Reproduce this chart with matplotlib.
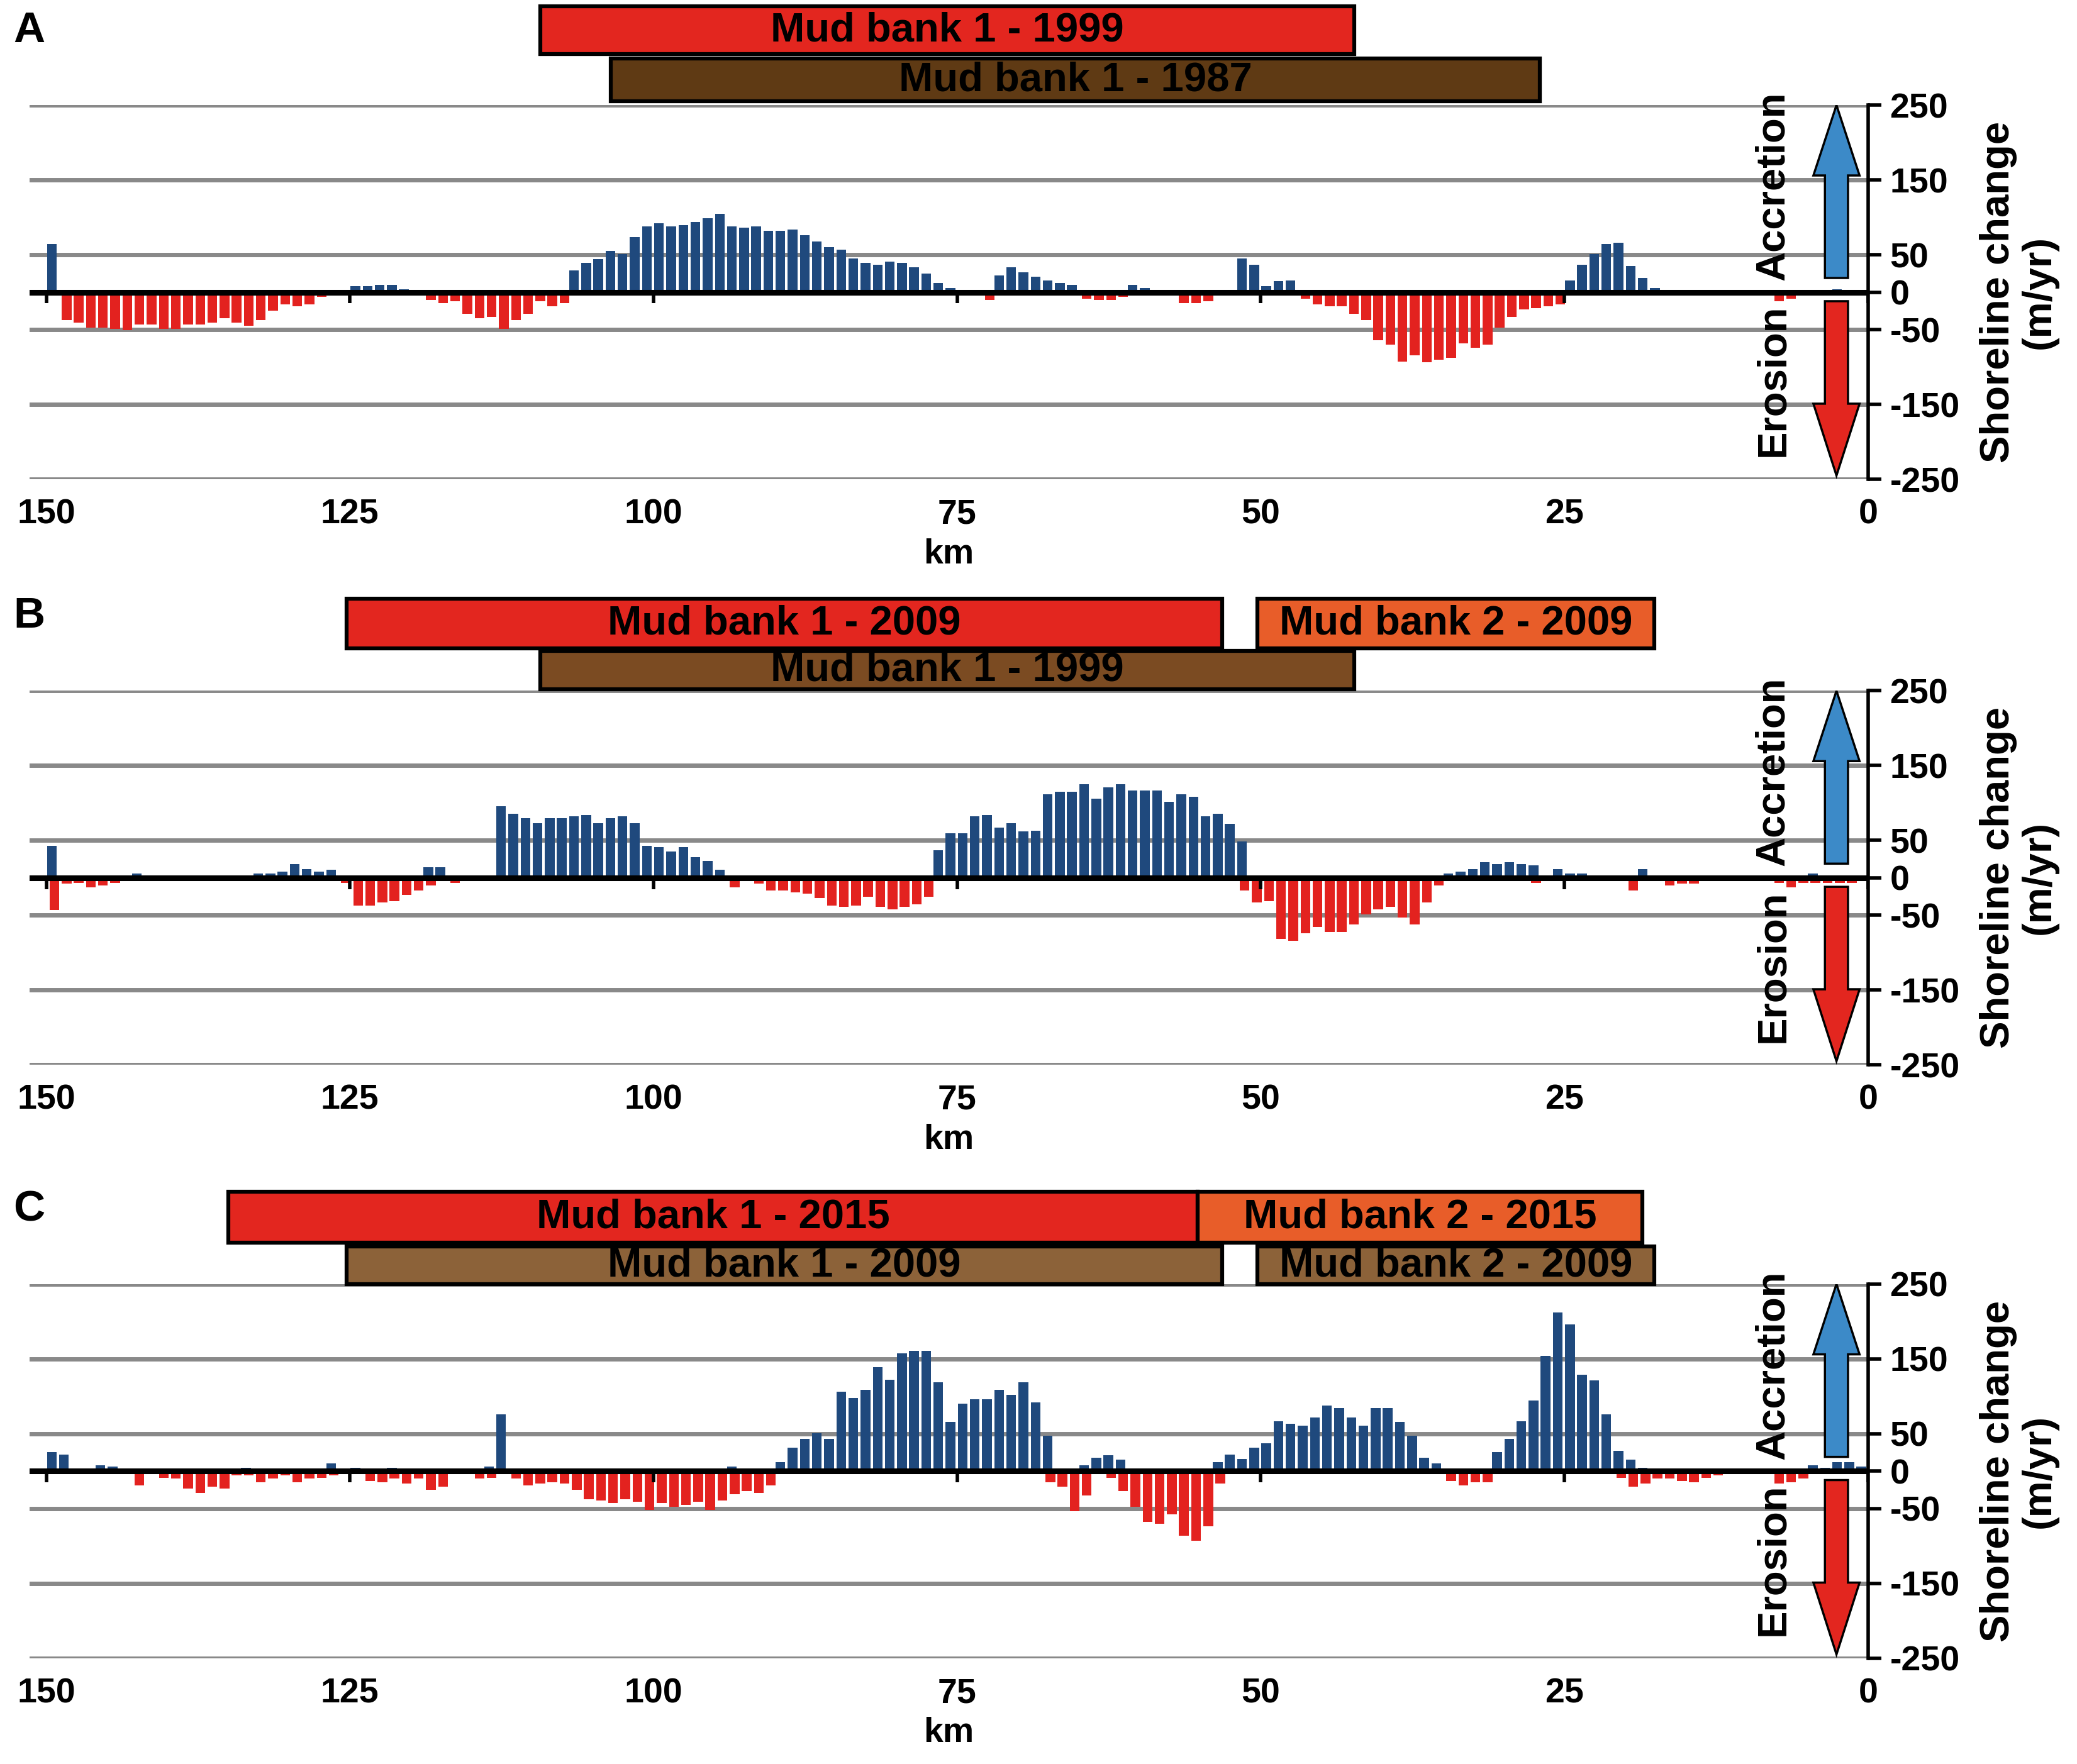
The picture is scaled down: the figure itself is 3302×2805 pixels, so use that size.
import numpy as np
import matplotlib.pyplot as plt
from matplotlib.patches import Rectangle, Polygon

plt.rcParams['font.family'] = ['Liberation Sans', 'DejaVu Sans']
plt.rcParams['font.weight'] = 'bold'

# start of every 1 km coastal segment (150 km -> 1 km)
km = np.arange(150, 0, -1)
xticks_km = [150, 125, 100, 75, 50, 25, 0]
yticks = [250, 150, 50, 0, -50, -150, -250]
gridvals = [250, 150, 50, -50, -150, -250]

# panel A: shoreline change 1987-1999 (m/yr)
acc_a = ([64, 0, 0, 0, 0, 0, 0, 0, 0, 0, 0, 0, 0, 0, 0, 0, 0, 0, 0, 0, 0, 0, 0, 0, 0]
         + [8, 8, 10, 10, 4, 0, 0, 0, 0, 0, 0, 0, 0, 0, 0, 0, 0, 0, 29, 39, 44, 55, 51, 74, 88]
         + [92, 88, 90, 94, 99, 105, 88, 86, 88, 82, 82, 84, 76, 68, 60, 57, 45, 39, 37, 41, 39, 33, 25, 12, 6]
         + [3, 3, 0, 22, 33, 27, 21, 16, 12, 10, 0, 0, 0, 0, 10, 6, 0, 0, 0, 0, 0, 3, 0, 45, 37]
         + [8, 15, 16] + [0] * 22
         + [16, 37, 51, 64, 66, 35, 19, 6, 0, 0, 0, 0, 0, 0, 0, 0, 0, 0, 0, 0, 0, 0, 4, 0, 0])
ero_a = ([0, -37, -41, -47, -47, -49, -51, -43, -43, -49, -49, -43, -43, -41, -35, -41, -45, -37, -25, -16, -19, -16, -6, 0, -2]
         + [0, 0, 0, 0, 0, 0, -10, -15, -12, -29, -35, -33, -49, -37, -29, -12, -19, -15, 0, 0, 0, 0, 0, 0, 0]
         + [0] * 25
         + [0, 0, -10, 0, 0, 0, 0, 0, 0, 0, -9, -10, -10, -6, 0, 0, 0, -4, -15, -15, -12, -4, 0, 0, 0]
         + [0, 0, 0, -9, -16, -19, -19, -29, -37, -64, -70, -93, -84, -94, -90, -88, -68, -74, -70, -47, -33, -23, -21, -19, -16]
         + [0] * 17 + [-12, -9, -4, 0, -4, 0, 0, 0])

# panel B: shoreline change 1999-2009
acc_b = ([43, 0, 0, 0, 0, 0, 0, 6, 0, 0, 0, 0, 0, 0, 0, 0, 0, 6, 6, 8, 18, 12, 8, 11, 0]
         + [0, 0, 0, 0, 0, 0, 14, 14, 0, 0, 0, 0, 96, 86, 80, 73, 80, 80, 82, 84, 73, 80, 82, 73, 43]
         + [41, 35, 41, 28, 23, 11, 0, 0, 0, 0, 0, 0, 0, 0, 0, 0, 0, 0, 0, 0, 0, 0, 0, 37, 60]
         + [60, 82, 84, 67, 73, 62, 63, 112, 115, 115, 125, 106, 121, 125, 117, 117, 117, 102, 112, 108, 82, 86, 72, 49, 0]
         + [0] * 15 + [6, 8, 12, 21, 18, 21, 18, 17, 0, 12]
         + [6, 6, 0, 0, 0, 0, 12, 0, 0, 0, 0, 0, 0, 0, 0, 0, 0, 0, 0, 0, 6, 0, 0, 0, 0])
ero_b = ([-43, -8, -7, -13, -10, -7, -4, 0, 0, 0, -4, 0, -4, 0, 0, 0, 0, 0, 0, 0, 0, 0, 0, 0, -7]
         + [-37, -37, -33, -31, -23, -17, -10, 0, -7, -4, -4, 0, 0, 0, 0, 0, 0, 0, 0, 0, 0, 0, 0, 0, 0]
         + [0, 0, 0, 0, 0, -4, -13, -4, -8, -17, -17, -19, -21, -27, -37, -39, -37, -25, -39, -42, -39, -35, -25, 0, 0]
         + [0] * 23 + [-17, -33]
         + [-31, -82, -84, -74, -66, -72, -72, -62, -49, -42, -39, -53, -62, -33, -10, 0, 0, 0, 0, 0, 0, 0, -7, 0, 0]
         + [0, 0, 0, 0, -4, -17, 0, 0, -10, -8, -8, 0, 0, 0, 0, 0, 0, -7, -13, -7, -7, -7, -7, -7, -4])

# panel C: shoreline change 2009-2015
acc_c = ([25, 22, 0, 0, 8, 6, 0, 0, 0, 0, 0, 0, 0, 0, 0, 0, 4, 0, 0, 0, 0, 0, 0, 10, 0]
         + [4, 0, 0, 4, 0, 0, 0, 0, 0, 0, 0, 6, 76, 0, 0, 0, 0, 0, 0, 0, 0, 0, 0, 0, 0]
         + [0, 0, 0, 0, 0, 0, 6, 0, 0, 0, 12, 31, 43, 51, 43, 106, 98, 109, 139, 122, 157, 161, 161, 119, 66]
         + [90, 96, 96, 109, 102, 119, 92, 47, 0, 0, 8, 18, 21, 15, 0, 0, 0, 0, 0, 0, 0, 12, 22, 16, 31]
         + [37, 67, 63, 61, 72, 88, 84, 72, 61, 84, 84, 66, 47, 18, 10, 0, 0, 0, 0, 25, 43, 67, 94, 154, 212]
         + [196, 129, 121, 76, 27, 15, 4, 0, 0, 0, 0, 0, 0, 0, 0, 0, 0, 0, 0, 0, 8, 4, 12, 12, 6])
ero_c = ([0, 0, -4, 0, 0, -4, -4, -19, -4, -9, -10, -23, -29, -21, -23, -6, -6, -15, -10, -6, -15, -10, -9, -6, -4]
         + [-4, -13, -15, -10, -17, -10, -25, -21, 0, 0, -10, -9, 0, -10, -19, -17, -15, -17, -25, -38, -39, -43, -38, -41, -52]
         + [-43, -48, -45, -41, -52, -39, -31, -27, -29, -19] + [0] * 15
         + [0, 0, 0, 0, 0, 0, 0, -15, -21, -54, -33, 0, -9, -27, -48, -68, -70, -58, -86, -93, -74, -17, 0, 0, 0]
         + [0] * 15 + [-13, -19, -15, -15, 0, 0, 0, 0, 0, 0]
         + [0, 0, 0, 0, -9, -21, -17, -10, -10, -13, -15, -9, -6, -4, -4, -4, -4, -17, -15, -10, -4, -4, 0, -4, 0])

# mud bank extents: label, km from, km to, colour, row (0 = upper, 1 = lower)
banks_a = [('Mud bank 1 - 1999', 109.3, 42.3, '#E3261F', 0),
           ('Mud bank 1 - 1987', 103.5, 27.0, '#5F3A14', 1)]
banks_b = [('Mud bank 1 - 2009', 125.3, 53.2, '#E3261F', 0),
           ('Mud bank 2 - 2009', 50.3, 17.6, '#E85D29', 0),
           ('Mud bank 1 - 1999', 109.3, 42.3, '#7B4B22', 1)]
banks_c = [('Mud bank 1 - 2015', 135.0, 55.2, '#E3261F', 0),
           ('Mud bank 2 - 2015', 55.2, 18.6, '#E85D29', 0),
           ('Mud bank 1 - 2009', 125.3, 53.2, '#8C6239', 1),
           ('Mud bank 2 - 2009', 50.3, 17.6, '#8C6239', 1)]

panels = [('A', acc_a, ero_a, banks_a, 0.7283, [(318, 382), (255, 312)]),
          ('B', acc_b, ero_b, banks_b, 0.3963, [(307, 373), (252, 303)]),
          ('C', acc_c, ero_c, banks_c, 0.0600, [(305, 373), (250, 300)])]

blue = '#1F497D'
red = '#E3221F'

fig = plt.figure(figsize=(33.02, 28.05), dpi=100)
for letter, acc, ero, banks, bottom, rows in panels:
    ax = fig.add_axes([0.0141, bottom, 0.8853, 0.2121])
    for g in gridvals:
        ax.axhline(g, color='#898989', lw=5, zorder=0, solid_capstyle='round')
    ax.bar(km - 0.45, acc, width=0.8, color=blue, zorder=2)
    ax.bar(km - 0.67, ero, width=0.8, color=red, zorder=2)
    ax.axhline(0, color='black', lw=6.5, zorder=3)
    ax.vlines(xticks_km, -15, 0, color='black', lw=4, zorder=3)

    ax.set_xlim(151.4, 0)
    ax.set_ylim(-250, 250)
    for s in ['top', 'left', 'bottom']:
        ax.spines[s].set_visible(False)
    ax.spines['right'].set_linewidth(4)
    ax.yaxis.tick_right()
    ax.set_yticks(yticks)
    ax.set_yticklabels([str(v) for v in yticks], fontsize=40, fontweight='bold')
    ax.tick_params(axis='y', length=15, width=4, pad=10)
    ax.set_xticks(xticks_km)
    ax.set_xticklabels([str(v) for v in xticks_km], fontsize=40, fontweight='bold')
    ax.tick_params(axis='x', length=0, pad=22)
    ax.set_xlabel('km', fontsize=40, fontweight='bold', labelpad=8)

    ax.text(1.082, 0.5, 'Shoreline change\n(m/yr)', transform=ax.transAxes, rotation=90,
            ha='center', va='center', multialignment='center', fontsize=47,
            fontweight='bold', linespacing=1.1)

    # accretion / erosion arrows
    xc, sw, hw = 2.6, 0.95, 1.9
    up = [(xc - sw, 19), (xc - sw, 156), (xc - hw, 156), (xc, 250), (xc + hw, 156), (xc + sw, 156), (xc + sw, 19)]
    dn = [(xc - sw, -12), (xc - sw, -149), (xc - hw, -149), (xc, -245), (xc + hw, -149), (xc + sw, -149), (xc + sw, -12)]
    ax.add_patch(Polygon(up, closed=True, facecolor='#3C8AC8', edgecolor='black', lw=2.5, zorder=5))
    ax.add_patch(Polygon(dn, closed=True, facecolor='#E3261F', edgecolor='black', lw=2.5, zorder=5))
    ax.text(7.8, 142, 'Accretion', rotation=90, ha='center', va='center', fontsize=47, fontweight='bold', zorder=6)
    ax.text(7.8, -118, 'Erosion', rotation=90, ha='center', va='center', fontsize=47, fontweight='bold', zorder=6)

    # mud bank boxes above the panel
    for label, k0, k1, col, row in banks:
        y0, y1 = rows[row]
        ax.add_patch(Rectangle((k1, y0), k0 - k1, y1 - y0, facecolor=col, edgecolor='black',
                               lw=4.5, clip_on=False, zorder=6))
        ax.text((k0 + k1) / 2, (y0 + y1) / 2, label, ha='center', va='center', fontsize=47,
                fontweight='bold', clip_on=False, zorder=7)

    fig.text(0.0141, bottom + 0.2121 + 0.0422, letter, ha='center', va='center',
             fontsize=50, fontweight='bold')

fig.savefig('out.png', dpi=100)
